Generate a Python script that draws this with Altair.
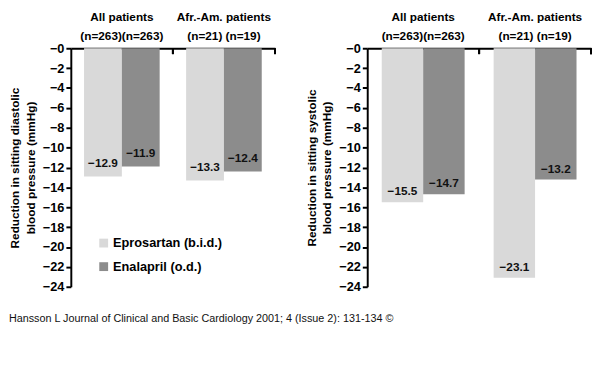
import altair as alt
import pandas as pd

groups = ["All patients", "Afr.-Am. patients"]
n_left = ["(n=263)(n=263)", "(n=21) (n=19)"]
n_right = ["(n=263)(n=263)", "(n=21)  (n=19)"]
drugs = ["Eprosartan (b.i.d.)", "Enalapril (o.d.)"]
diastolic_epro = [-12.9, -13.3]
diastolic_enal = [-11.9, -12.4]
systolic_epro = [-15.5, -23.1]
systolic_enal = [-14.7, -13.2]
y_ticks = list(range(-24, 1, 2))
colors = ["#d9d9d9", "#8c8c8c"]
footer = "Hansson L Journal of Clinical and Basic Cardiology 2001; 4 (Issue 2): 131-134 \u00a9"

FONT = "Liberation Sans"


def make_df(nlabels, epro, enal):
    rows = []
    for i, g in enumerate(groups):
        for d, vals in zip(drugs, [epro, enal]):
            v = vals[i]
            rows.append({
                "label": g + "|" + nlabels[i],
                "drug": d,
                "value": v,
                "txt": "\u2212" + f"{abs(v):.1f}",
            })
    return pd.DataFrame(rows)


def panel(df, title_lines, width, show_legend, dy):
    xaxis = alt.Axis(
        orient="top", title=None, labelAngle=0, ticks=False,
        labelExpr="split(datum.label, '|')", labelLineHeight=19,
        labelBaseline="bottom",
        labelFontSize=12, labelPadding=25, labelLimit=200,
    )
    xscale = alt.Scale(paddingInner=0, paddingOuter=0)
    x = alt.X("label:N", sort=None, scale=xscale, axis=xaxis)
    xo = alt.XOffset("drug:N", sort=drugs,
                     scale=alt.Scale(paddingInner=0, paddingOuter=0.35))
    y = alt.Y(
        "value:Q",
        scale=alt.Scale(domain=[-24, 0], nice=False),
        axis=alt.Axis(
            values=y_ticks, title=title_lines, grid=False,
            labelExpr="'\u2212' + abs(datum.value)", labelOverlap=False,
            labelFontSize=13, labelPadding=2, tickSize=5,
            titleFontSize=12, titleLineHeight=16, titlePadding=5,
        ),
    )
    if show_legend:
        leg = alt.Legend(
            title=None, orient="none", legendX=27, legendY=192,
            symbolType="square", symbolSize=81, symbolStrokeWidth=0,
            labelFontSize=13, labelFont=FONT, labelFontWeight="bold",
            labelOffset=3, rowPadding=10, labelLimit=250,
        )
    else:
        leg = None
    color = alt.Color("drug:N", sort=drugs,
                      scale=alt.Scale(domain=drugs, range=colors), legend=leg)
    base = alt.Chart(df).encode(x=x, xOffset=xo, y=y)
    bars = base.mark_bar().encode(color=color)
    text = base.mark_text(fontSize=12, font=FONT, fontWeight="bold",
                          baseline="middle", dy=dy, color="#111").encode(
        text="txt:N")
    ticks = alt.Chart(df).mark_rule(color="black", strokeWidth=2).encode(
        x=alt.X("label:N", sort=None, scale=xscale, axis=xaxis, bandPosition=1),
        y=alt.value(0), y2=alt.value(6))
    return alt.layer(bars, text, ticks).properties(width=width, height=243)


left = panel(make_df(n_left, diastolic_epro, diastolic_enal),
             ["Reduction in sitting diastolic", "blood pressure (mmHg)"],
             208, True, -14)
right = panel(make_df(n_right, systolic_epro, systolic_enal),
              ["Reduction in sitting systolic", "blood pressure (mmHg)"],
              228, False, -11)

chart = alt.hconcat(left, right, spacing=29).resolve_scale(
    color="independent", x="independent", xOffset="independent"
).properties(
    padding={"left": 0, "top": 0, "right": 0, "bottom": 0},
    title=alt.TitleParams(footer, orient="bottom", anchor="start",
                          fontSize=11, fontWeight="normal", font=FONT,
                          color="#111", offset=20),
).configure_view(stroke=None).configure_axis(
    labelFont=FONT, titleFont=FONT, labelFontWeight="bold",
    titleFontWeight="bold", labelColor="black", titleColor="black",
    domainColor="black", tickColor="black", domainWidth=2, tickWidth=2,
)

chart.save("out.html", embed_options={"renderer": "svg", "actions": False})
